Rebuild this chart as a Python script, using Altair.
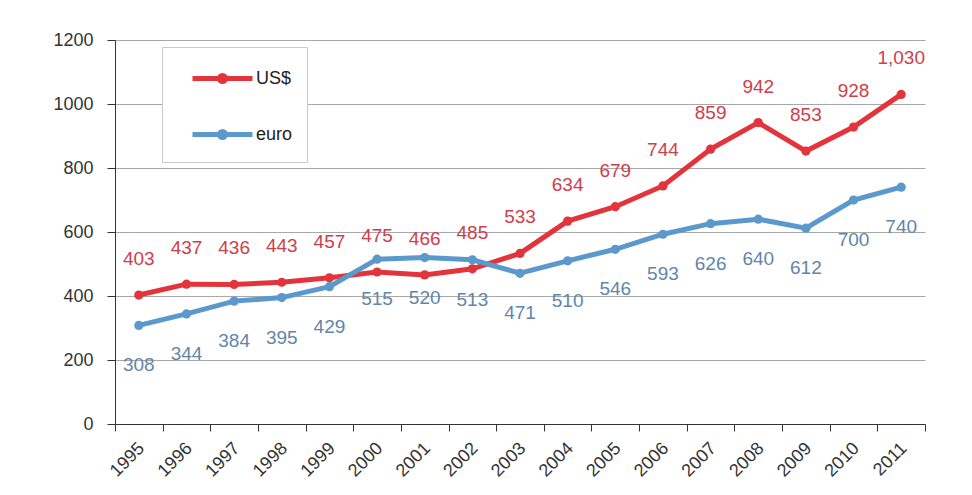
import altair as alt
import pandas as pd

years = list(range(1995, 2012))
usd = [403, 437, 436, 443, 457, 475, 466, 485, 533, 634, 679, 744, 859, 942, 853, 928, 1030]
euro = [308, 344, 384, 395, 429, 515, 520, 513, 471, 510, 546, 593, 626, 640, 612, 700, 740]
series = ["US$", "euro"]
line_colors = ["#e3343c", "#5b98cc"]
text_colors = ["#cf3e4a", "#5f86a8"]
y_ticks = [0, 200, 400, 600, 800, 1000, 1200]

df = pd.DataFrame({
    "year": years * 2,
    "value": usd + euro,
    "series": [series[0]] * len(years) + [series[1]] * len(years),
})
df["label"] = df["value"].map(lambda v: f"{v:,}")

FONT = "Liberation Sans"
boundaries = [y - 0.5 for y in years + [years[-1] + 1]]

x_enc = alt.X(
    "year:Q",
    scale=alt.Scale(domain=[years[0] - 0.5, years[-1] + 0.5], nice=False, zero=False),
    axis=alt.Axis(
        values=boundaries,
        labelExpr="datum.value > 2011 ? '' : '' + (floor(datum.value) + 1)",
        labelAngle=-45,
        labelOffset=20,
        labelPadding=8,
        tickSize=7,
        labelOverlap=False,
        labelFlush=False,
        grid=False,
        title=None,
        domainColor="#333333",
        tickColor="#333333",
        labelColor="#333333",
        labelFontSize=18,
        labelFont=FONT,
    ),
)
y_enc = alt.Y(
    "value:Q",
    scale=alt.Scale(domain=[0, 1200], nice=False),
    axis=alt.Axis(
        values=y_ticks,
        format="d",
        tickSize=8,
        labelPadding=14,
        grid=True,
        gridColor="#a8a8a8",
        domainColor="#333333",
        tickColor="#333333",
        labelColor="#333333",
        labelFontSize=18,
        labelFont=FONT,
        title=None,
    ),
)

color_scale = alt.Scale(domain=series, range=line_colors)

base = alt.Chart(df)

lines = base.mark_line(strokeWidth=5).encode(
    x=x_enc,
    y=y_enc,
    color=alt.Color(
        "series:N",
        scale=color_scale,
        legend=alt.Legend(
            title=None,
            orient="none",
            legendX=47,
            legendY=7,
            symbolType="M-2,0H2M0.2,0A0.2,0.2,0,1,1,-0.2,0A0.2,0.2,0,1,1,0.2,0",
            symbolSize=900,
            symbolStrokeWidth=5,
            symbolOffset=29,
            labelOffset=16,
            rowPadding=25,
            padding=14,
            fillColor="white",
            strokeColor="#c8c8c8",
            labelFontSize=18,
            labelFont=FONT,
            labelColor="#222222",
        ),
    ),
    detail="series:N",
)

points = base.mark_point(filled=True, size=85, opacity=1).encode(
    x="year:Q",
    y="value:Q",
    color=alt.Color("series:N", scale=color_scale, legend=None),
)

usd_text = base.transform_filter(alt.datum.series == series[0]).mark_text(
    dy=-36, fontSize=19, font=FONT, color=text_colors[0]
).encode(x="year:Q", y="value:Q", text="label:N")

euro_text = base.transform_filter(alt.datum.series == series[1]).mark_text(
    dy=40, fontSize=19, font=FONT, color=text_colors[1]
).encode(x="year:Q", y="value:Q", text="label:N")

chart = (
    alt.layer(lines, points, usd_text, euro_text)
    .properties(
        width=810,
        height=384,
        autosize=alt.AutoSizeParams(type="none"),
        padding={"left": 107, "top": 32, "right": 30, "bottom": 70},
        background="white",
    )
    .configure_view(stroke="transparent")
)

chart.save("out.html", embed_options={"renderer": "svg", "actions": False})
